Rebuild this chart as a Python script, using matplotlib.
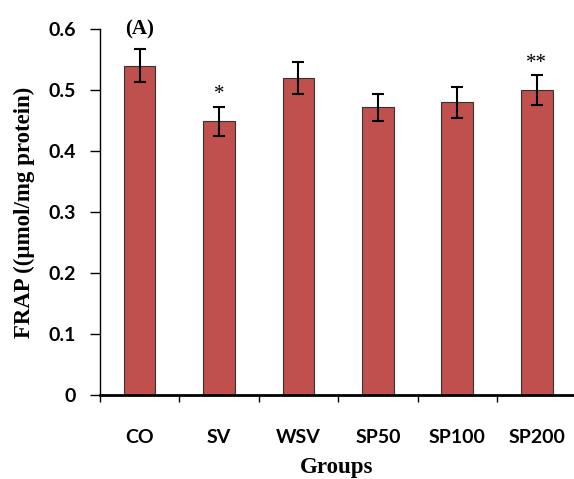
import matplotlib
matplotlib.use('Agg')
import matplotlib.pyplot as plt

# Data
groups = ['CO', 'SV', 'WSV', 'SP50', 'SP100', 'SP200']
frap = [0.540, 0.449, 0.520, 0.472, 0.480, 0.500]
sem = [0.027, 0.024, 0.027, 0.022, 0.025, 0.025]
marks = ['', '*', '', '', '', '**']

fig = plt.figure(figsize=(5.74, 4.79), dpi=100)
ax = fig.add_axes([0.174, 0.175, 0.826, 0.764])

x = range(len(groups))
ax.bar(x, frap, width=0.4, color='#C0504D', edgecolor='#333333', linewidth=0.8)
ax.errorbar(x, frap, yerr=sem, fmt='none', ecolor='black', elinewidth=1.5,
            capsize=4, capthick=1.5)

# significance stars
for i, m in enumerate(marks):
    if m:
        ax.text(i, frap[i] + sem[i] + 0.004, m, ha='center', va='bottom',
                fontsize=15, family='Liberation Serif')

ax.set_xlim(-0.5, 5.47)
ax.set_ylim(0, 0.6)
ax.set_yticks([0, 0.1, 0.2, 0.3, 0.4, 0.5, 0.6])
ax.set_yticklabels(['0', '0.1', '0.2', '0.3', '0.4', '0.5', '0.6'])

# category ticks sit between the bars
ax.set_xticks([i - 0.5 for i in range(len(groups))])
ax.set_xticklabels([])
ax.set_xticks(list(x), minor=True)
ax.set_xticklabels(groups, minor=True)
ax.tick_params(axis='x', which='minor', length=0, pad=24)
ax.tick_params(axis='x', which='major', length=5, width=1, direction='out')
ax.tick_params(axis='y', length=7, width=1, pad=10)

for lab in ax.get_xticklabels(minor=True) + ax.get_yticklabels():
    lab.set_fontfamily('Lato')
    lab.set_fontweight('bold')
    lab.set_fontsize(14)

ax.spines['top'].set_visible(False)
ax.spines['right'].set_visible(False)
ax.spines['bottom'].set_linewidth(2)
ax.spines['left'].set_linewidth(1)

ax.set_ylabel('FRAP ((µmol/mg protein)', family='Liberation Serif',
              fontweight='bold', fontsize=16.5, labelpad=10)
ax.set_xlabel('Groups', family='Liberation Serif', fontweight='bold',
              fontsize=16.5, labelpad=8)

ax.text(0.0, 0.6, '(A)', ha='center', va='center', family='Liberation Serif',
        fontweight='bold', fontsize=15)

fig.savefig('out.png', dpi=100)
